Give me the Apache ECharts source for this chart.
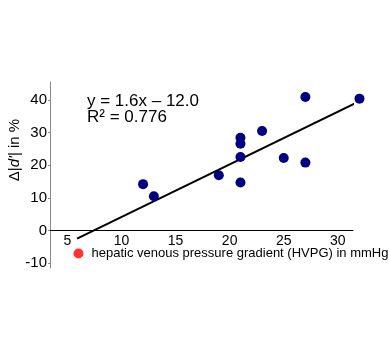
<!DOCTYPE html>
<html>
<head>
<meta charset="utf-8">
<script src="https://cdn.jsdelivr.net/npm/echarts@6/dist/echarts.min.js"></script>
<style>
  html, body { margin: 0; padding: 0; background: #fff; }
  #chart { width: 389px; height: 339px; }
</style>
</head>
<body>
<div id="chart"></div>
<script>
// HVPG (mmHg) vs change of |d'| in %
const hvpg = [12, 13, 19, 21, 21, 21, 21, 23, 25, 27, 27, 32];
const deltaD = [14.2, 10.5, 16.9, 28.4, 26.6, 22.5, 14.7, 30.5, 22.2, 40.9, 20.8, 40.4];
// regression line end points
const fitLine = [[5.9, -2.5], [31.6, 39.0]];
const xTicks = [5, 10, 15, 20, 25, 30];
const yTicks = [-10, 0, 10, 20, 30, 40];
const xTitle = 'hepatic venous pressure gradient (HVPG) in mmHg';

const font = "'Liberation Sans', Arial, Helvetica, sans-serif";
const chart = echarts.init(document.getElementById('chart'));

chart.setOption({
  animation: false,
  textStyle: { fontFamily: font },
  grid: { left: 50, right: 36, top: 82, bottom: 71 },
  legend: {
    data: [xTitle],
    left: 73.5,
    top: 247,
    padding: 0,
    icon: 'circle',
    itemWidth: 10,
    itemHeight: 10,
    textStyle: { fontSize: 13, color: '#000', padding: [4, 0, 0, 3] }
  },
  xAxis: {
    type: 'value',
    min: 3.4,
    max: 31.4,
    axisLine: { onZero: true, lineStyle: { color: '#000', width: 1 } },
    axisTick: { show: false },
    // labels sit under the zero line, not at the bottom of the grid
    axisLabel: { customValues: xTicks, fontSize: 14, color: '#000', margin: -34 },
    splitLine: { show: false }
  },
  yAxis: {
    type: 'value',
    min: -11.5,
    max: 45.5,
    axisLine: { show: true, lineStyle: { color: '#888', width: 1 } },
    axisTick: { show: true, length: 2, customValues: yTicks, lineStyle: { color: '#888' } },
    axisLabel: { customValues: yTicks, fontSize: 15, color: '#000', margin: 3 },
    splitLine: { show: false }
  },
  graphic: [
    {
      type: 'text',
      x: 15, y: 150,
      rotation: Math.PI / 2,
      style: {
        text: "{n|Δ|}{i|d'}{n|| in %}",
        align: 'center',
        verticalAlign: 'middle',
        rich: {
          n: { fontSize: 15, fontFamily: font, fill: '#000' },
          i: { fontSize: 15, fontFamily: font, fontStyle: 'italic', fill: '#000' }
        }
      }
    },
    {
      type: 'text',
      x: 87, y: 93,
      style: {
        text: 'y = 1.6x – 12.0\nR² = 0.776',
        fontSize: 17,
        lineHeight: 16,
        fontFamily: font,
        fill: '#000'
      }
    }
  ],
  series: [
    {
      type: 'line',
      data: fitLine,
      symbol: 'none',
      clip: false,
      lineStyle: { color: '#000', width: 2 },
      z: 2
    },
    {
      type: 'scatter',
      data: hvpg.map((x, i) => [x, deltaD[i]]),
      symbolSize: 10,
      clip: false,
      itemStyle: { color: '#000080', opacity: 1 },
      z: 3
    },
    {
      name: xTitle,
      type: 'scatter',
      data: [],
      itemStyle: { color: '#ff0000' }
    }
  ]
});
</script>
</body>
</html>
